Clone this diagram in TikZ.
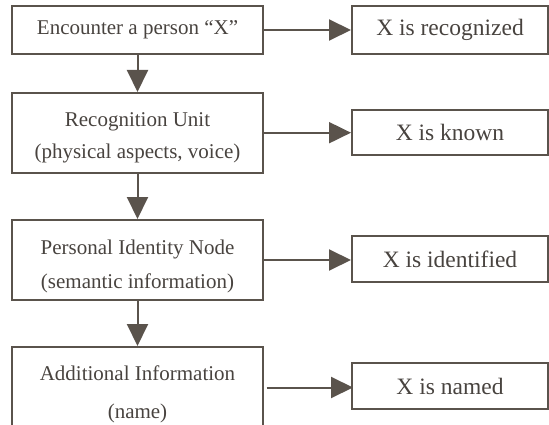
\documentclass[tikz,border=0pt]{standalone}
\usepackage{fontspec}
\setmainfont{Liberation Serif}
\usetikzlibrary{arrows.meta}
\definecolor{ln}{RGB}{90,83,76}
\definecolor{tx}{RGB}{72,67,63}
\tikzset{
  lbox/.style={draw=ln, line width=2pt, minimum width=251pt, inner sep=0pt, text=tx, align=center, font=\fontsize{21}{32}\selectfont},
  rbox/.style={draw=ln, line width=2pt, minimum width=196pt, inner sep=0pt, text=tx, font=\fontsize{23.5}{28}\selectfont},
  ltxt/.style={text=tx, align=center, inner sep=0pt},
  conn/.style={draw=ln, line width=2pt, -{Triangle[length=22pt,width=21pt]}, color=ln},
}
\begin{document}
\begin{tikzpicture}[x=1pt,y=-1pt]
\useasboundingbox (0,0) rectangle (549,425);
% left column
\node[lbox, minimum height=48pt] (b1) at (137.5,30) {Encounter a person “X”};
\node[lbox, minimum height=80pt] (b2) at (137.5,133) {};
\node[ltxt, font=\fontsize{21}{31.5}\selectfont] (t2) at (137.5,138) {Recognition Unit\\(physical aspects, voice)};
\node[lbox, minimum height=80pt] (b3) at (137.5,260) {};
\node[ltxt, font=\fontsize{21}{34}\selectfont] (t3) at (137.5,266) {Personal Identity Node\\(semantic information)};
\node[lbox, minimum height=94pt] (b4) at (137.5,394) {};
\node[ltxt, font=\fontsize{21}{38}\selectfont] (t4) at (137.5,394) {Additional Information\\(name)};
% right column
\node[rbox, minimum height=48pt] (r1) at (450,30) {X is recognized};
\node[rbox, minimum height=45pt] (r2) at (450,132.5) {X is known};
\node[rbox, minimum height=46pt] (r3) at (450,259) {X is identified};
\node[rbox, minimum height=46pt] (r4) at (450,386) {X is named};
% vertical connectors
\draw[conn] (b1.south) -- (b2.north);
\draw[conn] (b2.south) -- (b3.north);
\draw[conn] (b3.south) -- (b4.north);
% horizontal connectors
\draw[conn] (b1.east) -- (r1.west);
\draw[conn] (b2.east |- 0,132.7) -- (r2.west |- 0,132.7);
\draw[conn] (b3.east) -- (r3.west |- b3.east);
\coordinate (s4) at (266.7,387.5);
\draw[conn] (s4) -- ([xshift=2pt]r4.west |- s4);
\end{tikzpicture}
\end{document}
